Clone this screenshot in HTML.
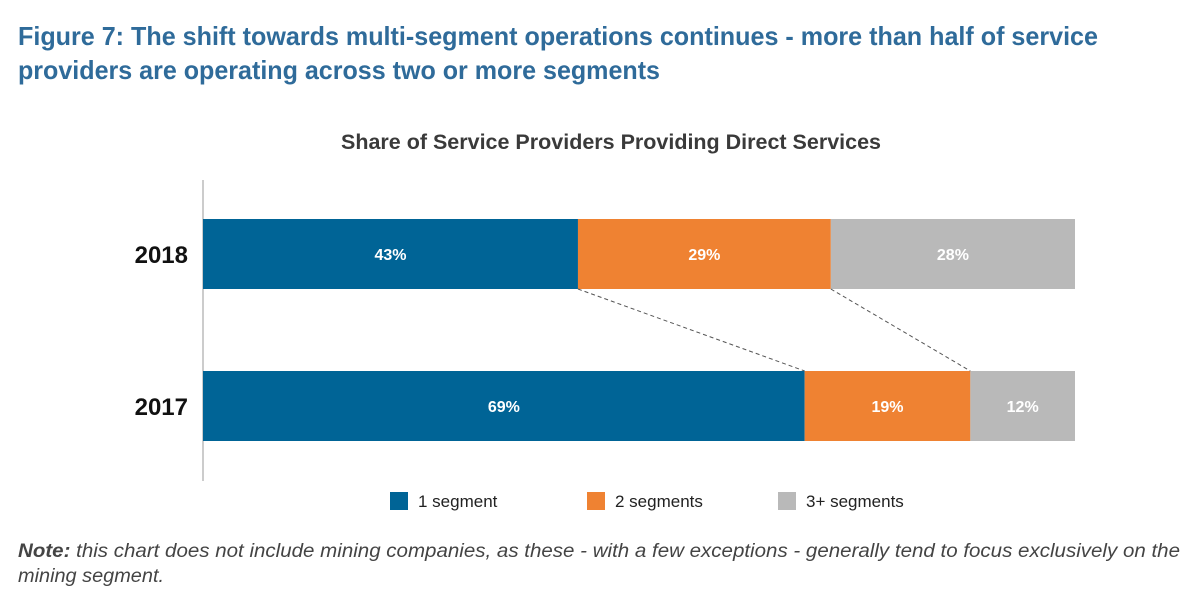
<!DOCTYPE html>
<html><head><meta charset="utf-8"><style>
html,body{margin:0;padding:0;background:#fff;}
svg{display:block;font-family:"Liberation Sans",sans-serif;}
</style></head><body>
<svg id="chart" width="1200" height="604" viewBox="0 0 1200 604">
<text x="18" y="45" font-size="26" font-weight="bold" fill="#2f6b9a" textLength="1080" lengthAdjust="spacingAndGlyphs">Figure 7: The shift towards multi-segment operations continues - more than half of service</text>
<text x="18" y="79" font-size="26" font-weight="bold" fill="#2f6b9a" textLength="642" lengthAdjust="spacingAndGlyphs">providers are operating across two or more segments</text>
<text x="611" y="149" font-size="21" font-weight="bold" fill="#3a3a3a" text-anchor="middle" textLength="540" lengthAdjust="spacingAndGlyphs">Share of Service Providers Providing Direct Services</text>
<line x1="203" y1="180" x2="203" y2="481" stroke="#bbb" stroke-width="1.5"/>
<g id="bars"></g>
<g id="legend"></g>
<text x="18" y="557" font-size="19" font-style="italic" fill="#444" textLength="1162" lengthAdjust="spacingAndGlyphs"><tspan font-weight="bold">Note:</tspan> this chart does not include mining companies, as these - with a few exceptions - generally tend to focus exclusively on the</text>
<text x="18" y="582" font-size="19" font-style="italic" fill="#444" textLength="146" lengthAdjust="spacingAndGlyphs">mining segment.</text>
</svg>
<script>
const categories = ["2018", "2017"];
const seriesNames = ["1 segment", "2 segments", "3+ segments"];
const seg1 = [43, 69];
const seg2 = [29, 19];
const seg3 = [28, 12];
const colors = ["#006496", "#ef8232", "#b9b9b9"];
const NS = "http://www.w3.org/2000/svg";
const x0 = 203, xw = 872;
const xs = v => x0 + v / 100 * xw;
const rowTop = [219, 371], barH = 70;
const series = [seg1, seg2, seg3];
const g = document.getElementById('bars');
function mk(tag, attrs){const e=document.createElementNS(NS,tag);for(const k in attrs)e.setAttribute(k,attrs[k]);return e;}
const ends = [];
categories.forEach((c, i) => {
  let cum = 0; ends[i] = [];
  series.forEach((s, j) => {
    const r = mk('rect', {x: xs(cum), y: rowTop[i], width: xs(cum + s[i]) - xs(cum), height: barH, fill: colors[j]});
    
    
    g.appendChild(r);
    const t = mk('text', {x: (xs(cum) + xs(cum + s[i])) / 2, y: rowTop[i] + barH / 2 + 6, 'font-size': 16, 'font-weight': 'bold', fill: '#fff', 'text-anchor': 'middle'});
    t.textContent = s[i] + '%';
    
    
    g.appendChild(t);
    cum += s[i]; ends[i].push(cum);
  });
  const lab = mk('text', {x: 188, y: rowTop[i] + barH / 2 + 9, 'font-size': 24, 'font-weight': 'bold', fill: '#111', 'text-anchor': 'end'});
  lab.textContent = c;
  
  
  g.appendChild(lab);
});
for (let j = 0; j < 2; j++) {
  const l = mk('line', {x1: xs(ends[0][j]), y1: rowTop[0] + barH, x2: xs(ends[1][j]), y2: rowTop[1], stroke: '#555', 'stroke-width': 1, 'stroke-dasharray': '4,3'});
  
  
  g.appendChild(l);
}
const lg = document.getElementById('legend');
const legX = [390, 587, 778];
seriesNames.forEach((n, j) => {
  const r = mk('rect', {x: legX[j], y: 492, width: 18, height: 18, fill: colors[j]});
  
  
  lg.appendChild(r);
  const t = mk('text', {x: legX[j] + 28, y: 507, 'font-size': 17, fill: '#222'});
  t.textContent = n;
  
  
  lg.appendChild(t);
});
</script>
</body></html>
